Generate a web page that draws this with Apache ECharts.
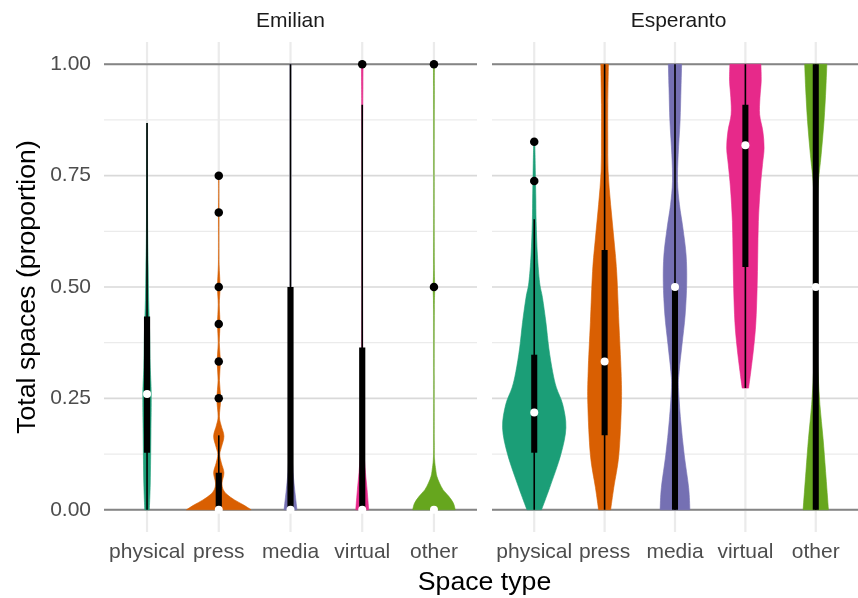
<!DOCTYPE html>
<html>
<head>
<meta charset="utf-8">
<script src="https://cdn.jsdelivr.net/npm/echarts@6/dist/echarts.min.js"></script>
<style>
  html, body { margin: 0; padding: 0; background: #ffffff; }
  #chart { width: 858px; height: 598px; }
</style>
</head>
<body>
<div id="chart"></div>
<script>
// ---- data -------------------------------------------------------------
const categories = ['physical', 'press', 'media', 'virtual', 'other'];
const panelNames = ['Emilian', 'Esperanto'];
const yTicks = [0, 0.25, 0.5, 0.75, 1];
const yMinorTicks = [0.125, 0.375, 0.625, 0.875];
const refLines = [0, 1];
const palette = ['#1B9E77', '#D95F02', '#7570B3', '#E7298A', '#66A61E'];

// Density outlines: [proportion, relative width (1 = widest violin of the panel)]
const emilianPhysical = [[0, 0.07], [0.06, 0.1], [0.17, 0.12], [0.26, 0.13], [0.32, 0.1], [0.4, 0.08], [0.47, 0.05], [0.545, 0.035], [0.62, 0.02], [0.75, 0.01], [0.868, 0.003]];
const emilianPress = [[0, 1.0], [0.011, 0.76], [0.022, 0.49], [0.034, 0.26], [0.045, 0.14], [0.06, 0.1], [0.083, 0.16], [0.105, 0.08], [0.124, 0.03], [0.14, 0.08], [0.165, 0.16], [0.19, 0.07], [0.21, 0.02], [0.25, 0.06], [0.29, 0.02], [0.333, 0.05], [0.375, 0.015], [0.417, 0.04], [0.46, 0.015], [0.5, 0.04], [0.55, 0.01], [0.6, 0.003], [0.667, 0.008], [0.71, 0.002], [0.75, 0.005]];
const emilianMedia = [[0, 0.2], [0.045, 0.13], [0.083, 0.08], [0.12, 0.05], [0.157, 0.035], [0.25, 0.015], [0.5, 0.01], [0.75, 0.008], [1, 0.01]];
const emilianVirtual = [[0, 0.2], [0.045, 0.15], [0.083, 0.1], [0.12, 0.06], [0.157, 0.04], [0.25, 0.02], [0.5, 0.01], [0.8, 0.01], [0.95, 0.02], [1, 0.025]];
const emilianOther = [[0, 0.66], [0.015, 0.6], [0.03, 0.46], [0.045, 0.28], [0.06, 0.17], [0.075, 0.09], [0.09, 0.055], [0.112, 0.02], [0.15, 0.008], [0.3, 0.004], [0.45, 0.01], [0.5, 0.025], [0.55, 0.01], [0.75, 0.004], [0.95, 0.01], [1, 0.015]];

const esperantoPhysical = [[0, 0.23], [0.05, 0.49], [0.124, 0.84], [0.184, 1.0], [0.236, 0.9], [0.274, 0.7], [0.31, 0.58], [0.363, 0.46], [0.42, 0.37], [0.476, 0.26], [0.51, 0.17], [0.572, 0.1], [0.647, 0.06], [0.7, 0.05], [0.74, 0.04], [0.797, 0.025], [0.826, 0.015]];
const esperantoPress = [[0, 0.19], [0.05, 0.29], [0.124, 0.45], [0.236, 0.53], [0.31, 0.52], [0.42, 0.45], [0.535, 0.38], [0.61, 0.29], [0.685, 0.19], [0.76, 0.11], [0.834, 0.1], [0.91, 0.1], [1, 0.12]];
const esperantoMedia = [[0, 0.47], [0.05, 0.43], [0.124, 0.29], [0.2, 0.18], [0.274, 0.11], [0.31, 0.13], [0.37, 0.22], [0.437, 0.32], [0.51, 0.37], [0.572, 0.35], [0.632, 0.25], [0.685, 0.14], [0.737, 0.08], [0.797, 0.1], [0.872, 0.16], [0.947, 0.19], [1, 0.21]];
const esperantoVirtual = [[0.273, 0.1], [0.31, 0.17], [0.363, 0.26], [0.42, 0.33], [0.497, 0.37], [0.572, 0.39], [0.647, 0.41], [0.722, 0.47], [0.775, 0.54], [0.812, 0.59], [0.85, 0.55], [0.887, 0.45], [0.925, 0.46], [0.962, 0.5], [1, 0.49]];
const esperantoOther = [[0, 0.4], [0.086, 0.31], [0.16, 0.23], [0.236, 0.13], [0.31, 0.07], [0.385, 0.03], [0.5, 0.01], [0.615, 0.03], [0.722, 0.07], [0.797, 0.17], [0.872, 0.26], [0.947, 0.32], [1, 0.35]];

// Box statistics per category: [lower whisker, q1, median, q3, upper whisker]
const emilianBox = [
  [0, 0.128, 0.26, 0.434, 0.868],
  [0, 0, 0, 0.083, 0.167],
  [0, 0, 0, 0.5, 1],
  [0, 0, 0, 0.364, 0.909],
  [0, 0, 0, 0, 0]
];
const esperantoBox = [
  [0, 0.128, 0.218, 0.348, 0.652],
  [0, 0.167, 0.333, 0.583, 1],
  [0, 0, 0.5, 0.5, 1],
  [0.273, 0.545, 0.818, 0.909, 1],
  [0, 0, 0.5, 1, 1]
];

// Outlying observations: [category position (1-based), proportion]
const emilianOutliers = [[2, 0.25], [2, 0.333], [2, 0.417], [2, 0.5], [2, 0.667], [2, 0.75], [4, 1], [5, 0.5], [5, 1]];
const esperantoOutliers = [[1, 0.738], [1, 0.826]];

// ---- chart ------------------------------------------------------------
const panels = [
  { name: panelNames[0], profiles: [emilianPhysical, emilianPress, emilianMedia, emilianVirtual, emilianOther], box: emilianBox, outliers: emilianOutliers },
  { name: panelNames[1], profiles: [esperantoPhysical, esperantoPress, esperantoMedia, esperantoVirtual, esperantoOther], box: esperantoBox, outliers: esperantoOutliers }
];

const FONT = '"Liberation Sans", Arial, Helvetica, sans-serif';
const VIOLIN_HALF = 0.45;   // half of the maximum violin width in category units
const BOX_HALF = 0.043;     // half width of the box in category units

const chart = echarts.init(document.getElementById('chart'), null, { renderer: 'canvas' });

const grids = [
  { left: 104, top: 42, width: 373, height: 490 },
  { left: 492, top: 42, width: 373, height: 490 }
];

const xAxes = panels.map((p, i) => ({
  type: 'value', gridIndex: i, min: 0.4, max: 5.6,
  axisLine: { show: false }, axisTick: { show: false }, splitLine: { show: false },
  axisLabel: {
    customValues: [1, 2, 3, 4, 5],
    formatter: v => categories[Math.round(v) - 1] || '',
    color: '#4D4D4D', fontSize: 21, fontFamily: FONT, margin: 10
  }
}));

const yAxes = panels.map((p, i) => ({
  type: 'value', gridIndex: i, min: -0.05, max: 1.05,
  axisLine: { show: false }, axisTick: { show: false }, splitLine: { show: false },
  axisLabel: {
    show: i === 0,
    customValues: yTicks,
    formatter: v => v.toFixed(2),
    color: '#4D4D4D', fontSize: 21, fontFamily: FONT, margin: 13
  }
}));

// Smooth outline through pixel points (Catmull-Rom segments as cubic Beziers)
function splineSegments(pts) {
  let d = '';
  for (let i = 0; i < pts.length - 1; i++) {
    const p0 = pts[Math.max(i - 1, 0)], p1 = pts[i], p2 = pts[i + 1], p3 = pts[Math.min(i + 2, pts.length - 1)];
    const c1 = [p1[0] + (p2[0] - p0[0]) / 6, p1[1] + (p2[1] - p0[1]) / 6];
    const c2 = [p2[0] - (p3[0] - p1[0]) / 6, p2[1] - (p3[1] - p1[1]) / 6];
    d += ' C' + c1[0] + ' ' + c1[1] + ' ' + c2[0] + ' ' + c2[1] + ' ' + p2[0] + ' ' + p2[1];
  }
  return d;
}

function hLineSeries(panelIdx, values, color, width, name) {
  return {
    type: 'custom', name, xAxisIndex: panelIdx, yAxisIndex: panelIdx,
    silent: true, clip: false,
    data: values.map(v => [1, v]),
    renderItem: (params, api) => {
      const cs = params.coordSys;
      const y = api.coord([1, api.value(1)])[1];
      return { type: 'line', shape: { x1: cs.x, y1: y, x2: cs.x + cs.width, y2: y },
               style: { stroke: color, lineWidth: width } };
    }
  };
}

function vLineSeries(panelIdx) {
  return {
    type: 'custom', name: 'vgrid', xAxisIndex: panelIdx, yAxisIndex: panelIdx,
    silent: true, clip: false,
    data: categories.map((c, i) => [i + 1, 0]),
    renderItem: (params, api) => {
      const cs = params.coordSys;
      const x = api.coord([api.value(0), 0])[0];
      return { type: 'line', shape: { x1: x, y1: cs.y, x2: x, y2: cs.y + cs.height },
               style: { stroke: '#EBEBEB', lineWidth: 2.2 } };
    }
  };
}

function violinSeries(panelIdx) {
  const panel = panels[panelIdx];
  return {
    type: 'custom', name: 'violin', xAxisIndex: panelIdx, yAxisIndex: panelIdx,
    silent: true,
    data: categories.map((c, i) => [i + 1, 0]),
    renderItem: (params, api) => {
      const pos = api.value(0);
      const prof = panel.profiles[params.dataIndex];
      const left = prof.map(([v, w]) => api.coord([pos - w * VIOLIN_HALF, v]));
      const right = prof.slice().reverse().map(([v, w]) => api.coord([pos + w * VIOLIN_HALF, v]));
      const pathData = 'M' + left[0][0] + ' ' + left[0][1] + splineSegments(left) +
        ' L' + right[0][0] + ' ' + right[0][1] + splineSegments(right) + ' Z';
      const color = palette[params.dataIndex];
      return {
        type: 'path',
        shape: { pathData },
        style: { fill: color, stroke: color, lineWidth: 0.6 }
      };
    }
  };
}

function boxSeries(panelIdx) {
  const panel = panels[panelIdx];
  return {
    type: 'custom', name: 'box', xAxisIndex: panelIdx, yAxisIndex: panelIdx,
    silent: true,
    data: panel.box.map((b, i) => [i + 1].concat(b)),
    renderItem: (params, api) => {
      const pos = api.value(0);
      const lo = api.value(1), q1 = api.value(2), med = api.value(3), q3 = api.value(4), hi = api.value(5);
      const pLo = api.coord([pos, lo]), pHi = api.coord([pos, hi]);
      const a = api.coord([pos - BOX_HALF, q3]), b = api.coord([pos + BOX_HALF, q1]);
      const m = api.coord([pos, med]);
      const children = [];
      if (hi > lo) {
        children.push({ type: 'line', shape: { x1: pLo[0], y1: pLo[1], x2: pHi[0], y2: pHi[1] },
                        style: { stroke: '#000', lineWidth: 1.6 } });
      }
      if (q3 > q1) {
        children.push({ type: 'rect', shape: { x: a[0], y: a[1], width: b[0] - a[0], height: b[1] - a[1] },
                        style: { fill: '#000' } });
      }
      children.push({ type: 'circle', shape: { cx: m[0], cy: m[1], r: 4 }, style: { fill: '#fff' } });
      return { type: 'group', children };
    }
  };
}

function outlierSeries(panelIdx) {
  return {
    type: 'scatter', name: 'outliers', xAxisIndex: panelIdx, yAxisIndex: panelIdx,
    silent: true, symbol: 'circle', symbolSize: 8.5,
    itemStyle: { color: '#000', opacity: 1 },
    data: panels[panelIdx].outliers
  };
}

const series = [];
[0, 1].forEach(i => {
  series.push(hLineSeries(i, yMinorTicks, '#EBEBEB', 1.2, 'minor'));
  series.push(hLineSeries(i, yTicks, '#D9D9D9', 1.6, 'major'));
  series.push(vLineSeries(i));
  series.push(hLineSeries(i, refLines, '#858585', 2.2, 'reference'));
  series.push(violinSeries(i));
  series.push(boxSeries(i));
  series.push(outlierSeries(i));
});

chart.setOption({
  animation: false,
  backgroundColor: '#ffffff',
  grid: grids,
  xAxis: xAxes,
  yAxis: yAxes,
  series,
  graphic: [
    { type: 'text', x: 290.5, y: 21, style: { text: panelNames[0], fill: '#1A1A1A', font: '21px ' + FONT, textAlign: 'center', textVerticalAlign: 'middle' } },
    { type: 'text', x: 678.5, y: 21, style: { text: panelNames[1], fill: '#1A1A1A', font: '21px ' + FONT, textAlign: 'center', textVerticalAlign: 'middle' } },
    { type: 'text', x: 484.5, y: 583, style: { text: 'Space type', fill: '#000', font: '26.7px ' + FONT, textAlign: 'center', textVerticalAlign: 'middle' } },
    { type: 'text', x: 28, y: 287, rotation: Math.PI / 2, style: { text: 'Total spaces (proportion)', fill: '#000', font: '26.7px ' + FONT, textAlign: 'center', textVerticalAlign: 'middle' } }
  ]
});
</script>
</body>
</html>
